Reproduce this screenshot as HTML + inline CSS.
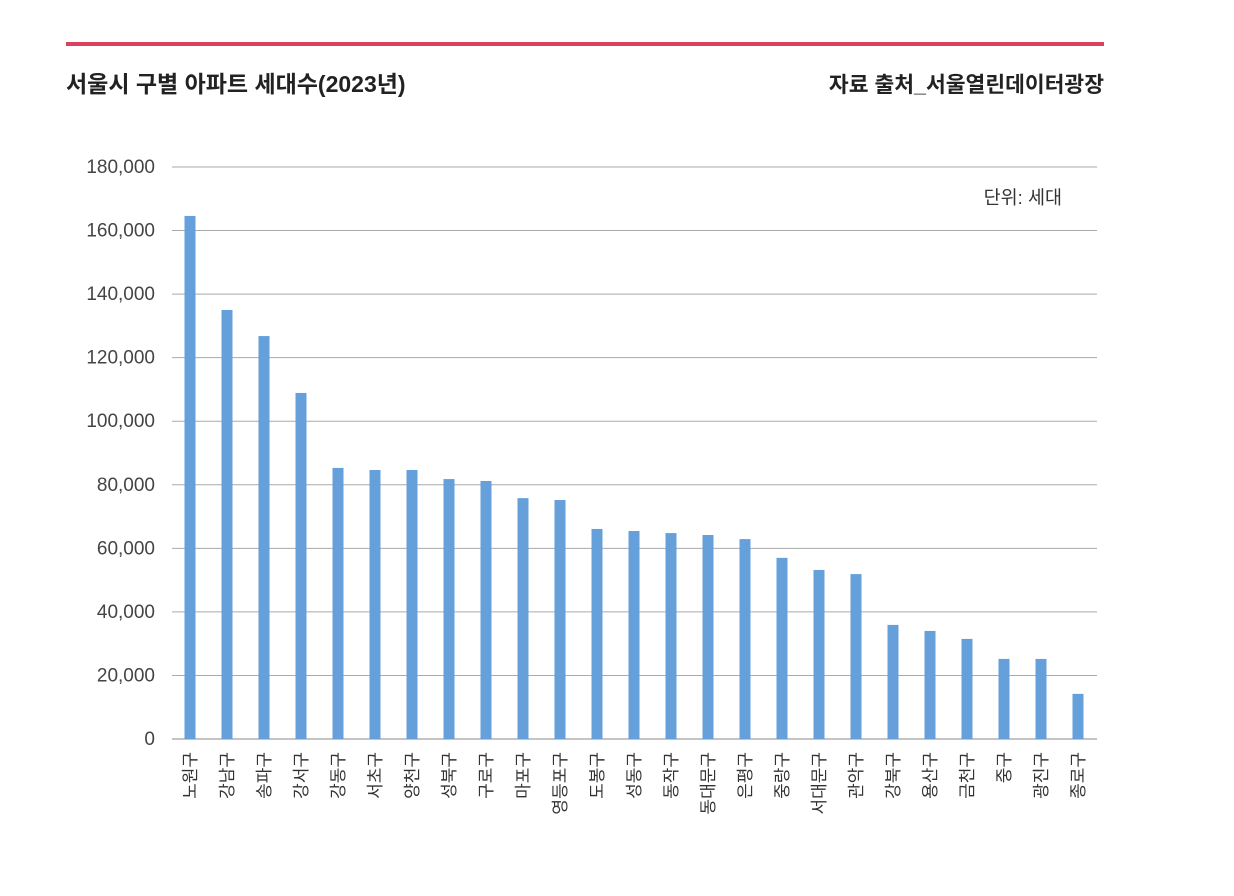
<!DOCTYPE html>
<html><head><meta charset="utf-8"><style>
body{margin:0;background:#fff;width:1234px;height:891px;overflow:hidden;font-family:"Liberation Sans","Noto Sans CJK KR",sans-serif}
</style></head><body>
<svg width="1234" height="891" style="font-family:'Liberation Sans','Noto Sans CJK KR',sans-serif">
<rect x="66" y="42" width="1038" height="4" fill="#d9415f"/>
<text x="66" y="92" font-size="23" font-weight="bold" fill="#222">서울시 구별 아파트 세대수(2023년)</text>
<text x="1104" y="92" font-size="21.5" font-weight="bold" fill="#222" text-anchor="end">자료 출처_서울열린데이터광장</text>
<text x="1062" y="204" font-size="18.5" fill="#333" text-anchor="end">단위: 세대</text>
<g id="grid"></g><g id="bars"></g><g id="xl"></g>
</svg>
<script>
const categories=["노원구","강남구","송파구","강서구","강동구","서초구","양천구","성북구","구로구","마포구","영등포구","도봉구","성동구","동작구","동대문구","은평구","중랑구","서대문구","관악구","강북구","용산구","금천구","중구","광진구","종로구"];
const values=[164600,135000,126800,108900,85300,84650,84650,81800,81200,75800,75200,66100,65450,64800,64200,62900,57000,53200,51900,35900,34000,31500,25200,25200,14200];
const ticks=[0,20000,40000,60000,80000,100000,120000,140000,160000,180000];
const NS="http://www.w3.org/2000/svg";
const y=v=>739-v/180000*572;
const x=i=>190+i*37;
function mk(t,a,p){const e=document.createElementNS(NS,t);for(const k in a)e.setAttribute(k,a[k]);p.appendChild(e);return e;}
const g=document.getElementById('grid'),b=document.getElementById('bars'),xl=document.getElementById('xl');
ticks.forEach(t=>{
 const l=mk('line',{x1:172,x2:1097,y1:y(t),y2:y(t),stroke:t===0?'#888':'#aaa','stroke-width':1},g);
 
 
 const tx=mk('text',{x:155,y:y(t)+6,'font-size':19,fill:'#444','text-anchor':'end'},g);
 tx.textContent=t.toLocaleString('en-US');
 
 
});
categories.forEach((c,i)=>{
 const r=mk('rect',{x:x(i)-5.5,y:y(values[i]),width:11,height:739-y(values[i]),fill:'#65a0db'},b);
 
 
 const t=mk('text',{x:0,y:0,'font-size':17,fill:'#333','text-anchor':'end',transform:`translate(${x(i)+6},752) rotate(-90)`},xl);
 t.textContent=c;
 
 
});
</script>
</body></html>
